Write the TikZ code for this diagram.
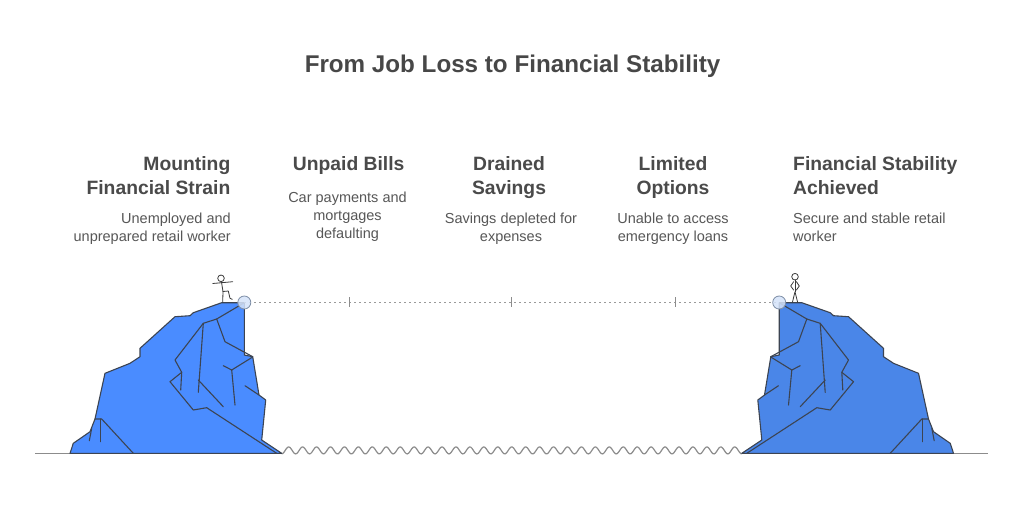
\documentclass[tikz,border=0pt]{standalone}
\usepackage{fontspec}
\setmainfont{Liberation Sans}
\definecolor{titlecol}{HTML}{474747}
\definecolor{headcol}{HTML}{4A4A4A}
\definecolor{desccol}{HTML}{575757}
\definecolor{cliffA}{HTML}{4A8CFF}
\definecolor{cliffB}{HTML}{4A86E8}
\definecolor{edgecol}{HTML}{3C4452}
\definecolor{dotcol}{HTML}{9A9A9A}
\definecolor{groundcol}{HTML}{8C8C8C}
\definecolor{knobfill}{HTML}{D5E3FA}
\definecolor{knobedge}{HTML}{8090A8}
\definecolor{stickcol}{HTML}{3A3A3A}
\tikzset{
  ttl/.style={font=\fontsize{24.2}{29}\selectfont\bfseries, text=titlecol, inner sep=0pt},
  head/.style={font=\fontsize{19.3}{23.5}\selectfont\bfseries, text=headcol, inner sep=0pt},
  desc/.style={font=\fontsize{14.5}{18}\selectfont, text=desccol, inner sep=0pt},
  cliffedge/.style={draw=edgecol, line width=1.1pt, line join=round, line cap=round},
  ground/.style={draw=groundcol, line width=1.2pt},
  dotline/.style={draw=dotcol, line width=1.2pt, dash pattern=on 1.3pt off 3.7pt},
  tickmark/.style={draw=groundcol, line width=1pt},
  knob/.style={circle, draw=knobedge, line width=0.8pt, fill=knobfill, fill opacity=0.85, minimum size=13pt, inner sep=0pt},
  stick/.style={draw=stickcol, line width=0.8pt, line join=round, line cap=round},
}
\newcommand\drawcliff[1]{%
  \draw[cliffedge, fill=#1] (70,453.3) -- (73.3,443.3) -- (90,431.7) -- (95,419) -- (105,373.3) -- (130,363.3) -- (140,356.7) -- (140,348.3) -- (175,316.7) -- (190,315.7) -- (193.3,312.7) -- (221.7,302.7) -- (244.3,302.7) -- (244.3,355) -- (252.7,356.7) -- (259,395) -- (265.7,400) -- (261.7,440) -- (281.7,453.3) -- cycle;
  \draw[cliffedge] (243.3,303.3) -- (216.7,319) -- (203.3,323.3) -- (175,360) -- (181.7,372.3) -- (170,381.7) -- (193.3,410) -- (206.7,407.7) -- (276.7,453.3);
  \draw[cliffedge] (216.7,319) -- (225,341.7) -- (252.7,356.7);
  \draw[cliffedge] (252.7,357) -- (231.7,370) -- (235,405);
  \draw[cliffedge] (223.3,365.7) -- (231.7,370);
  \draw[cliffedge] (203.3,323.3) -- (198.3,392.3);
  \draw[cliffedge] (198.3,380) -- (223.3,406.7);
  \draw[cliffedge] (181.7,372.3) -- (180.7,390);
  \draw[cliffedge] (245,385.7) -- (259,395);
  \draw[cliffedge] (95,419) -- (101.7,419) -- (133.3,453.3);
  \draw[cliffedge] (100.7,419) -- (100.7,441.7);
  \draw[cliffedge] (91.7,428.3) -- (89.3,440.7);
}
\begin{document}
\begin{tikzpicture}[x=1pt,y=-1pt]
\useasboundingbox[fill=white] (0,0) rectangle (1024,512);

% title
\node[ttl, anchor=base] (title) at (512.5,72.3) {From Job Loss to Financial Stability};

% columns
\node[head, anchor=north east, align=right] (h1) at (230.5,156.5) {Mounting\\Financial Strain};
\node[desc, anchor=north east, align=right] (d1) at (231,212.8) {Unemployed and\\unprepared retail worker};

\node[head, anchor=north, align=center] (h2) at (348.7,156.5) {Unpaid Bills};
\node[desc, anchor=north, align=center] (d2) at (347.5,191.5) {Car payments and\\mortgages\\defaulting};

\node[head, anchor=north, align=center] (h3) at (509,156.5) {Drained\\Savings};
\node[desc, anchor=north, align=center] (d3) at (511,212.8) {Savings depleted for\\expenses};

\node[head, anchor=north, align=center] (h4) at (673,156.5) {Limited\\Options};
\node[desc, anchor=north, align=center] (d4) at (673,212.8) {Unable to access\\emergency loans};

\node[head, anchor=north west, align=left] (h5) at (793,156.5) {Financial Stability\\Achieved};
\node[desc, anchor=north west, align=left] (d5) at (793,212.8) {Secure and stable retail\\worker};

% ground
\draw[ground] (35,453.8) -- (282,453.8);
\draw[ground] (741.5,453.8) -- (988,453.8);
\draw[ground] plot[domain=281.7:741.8, samples=400, smooth] (\x, {450.4 + 3.5*cos((\x-281.7)/13.94*360)});

% cliffs
\drawcliff{cliffA}
\begin{scope}[xshift=1023.5pt, xscale=-1]
  \drawcliff{cliffB}
\end{scope}

% rope
\coordinate (r1) at (244.3,302.5);
\coordinate (r2) at (779.2,302.5);
\draw[dotline] (r1) -- (r2);
\coordinate (t1) at (349,302);
\coordinate (t2) at (511,302);
\coordinate (t3) at (675,302);
\draw[tickmark] ([yshift=5pt]t1) -- ([yshift=-5pt]t1);
\draw[tickmark] ([yshift=5pt]t2) -- ([yshift=-5pt]t2);
\draw[tickmark] ([yshift=5pt]t3) -- ([yshift=-5pt]t3);
\node[knob] (k1) at (r1) {};
\node[knob] (k2) at (r2) {};

% walking figure (left)
\draw[stick, fill=white] (221,278.3) circle (3.3);
\draw[stick] (221.4,281.6) -- (223,291.5);
\draw[stick] (212.7,283.5) -- (232.7,281.7);
\draw[stick] (223,291.5) -- (222.7,302.3);
\draw[stick] (223,291.5) -- (228.3,291) -- (230,298.3) -- (232.3,299.3);

% standing figure (right)
\draw[stick, fill=white] (795,276.7) circle (3.3);
\draw[stick] (795,280) -- (795,291.7);
\draw[stick] (793.6,281.7) -- (790.7,286) -- (793.6,290);
\draw[stick] (796.4,281.7) -- (799.3,286) -- (796.4,290);
\draw[stick] (792.4,302.3) -- (795,291.7) -- (797.6,302.3);
\end{tikzpicture}
\end{document}
